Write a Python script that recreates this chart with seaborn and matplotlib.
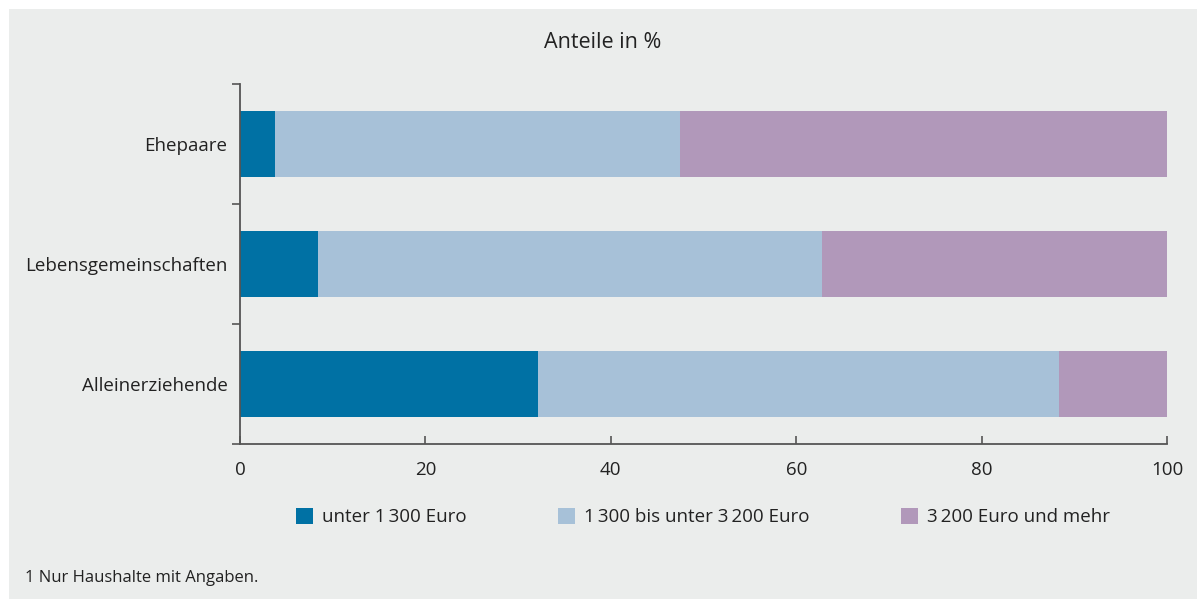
import numpy as np
import pandas as pd
import matplotlib.pyplot as plt
import seaborn as sns
from matplotlib.patches import Patch, Rectangle

# data (shares in %)
groups = ['Ehepaare', 'Lebensgemeinschaften', 'Alleinerziehende']
unter_1300 = [3.8, 8.4, 32.1]
von_1300_bis_3200 = [43.7, 54.4, 56.2]
ab_3200 = [52.5, 37.2, 11.7]
series_names = ['unter 1\u2009300 Euro', '1\u2009300 bis unter 3\u2009200 Euro', '3\u2009200 Euro und mehr']
colors = ['#0071A4', '#A7C1D8', '#B198BA']
x_ticks = [0, 20, 40, 60, 80, 100]

df = pd.DataFrame({'group': groups,
                   's1': unter_1300,
                   's2': von_1300_bis_3200,
                   's3': ab_3200})
# cumulative ends for stacking
df['c1'] = df['s1']
df['c2'] = df['s1'] + df['s2']
df['c3'] = df['c2'] + df['s3']

sns.set_style('ticks')
plt.rcParams['font.family'] = ['Open Sans', 'DejaVu Sans']
bg = '#EBEDEC'
dark = '#222222'

fig = plt.figure(figsize=(11.97, 5.99), dpi=100)
fig.patch.set_facecolor('white')
fig.patches.append(Rectangle((9 / 1197, 0), 1, 1 - 9 / 599, transform=fig.transFigure,
                             facecolor=bg, edgecolor='none', zorder=-10))

ax = fig.add_axes([240 / 1197, 1 - 444 / 599, 927 / 1197, 360 / 599])
ax.set_facecolor(bg)
ax.set_zorder(5)

# draw from the longest segment down so the shorter ones sit on top
for col, c in zip(['c3', 'c2', 'c1'], colors[::-1]):
    sns.barplot(data=df, x=col, y='group', orient='h', color=c, saturation=1,
                width=0.55, linewidth=0, edgecolor='none', ax=ax)

ax.set_xlim(0, 100)
ax.set_ylim(2.5, -0.5)
ax.set_xticks(x_ticks)
ax.set_xlabel('')
ax.set_ylabel('')

for s in ['top', 'right']:
    ax.spines[s].set_visible(False)
for s in ['left', 'bottom']:
    ax.spines[s].set_color('#555555')
    ax.spines[s].set_linewidth(1.3)

ax.tick_params(axis='x', direction='in', length=6, width=1.2, color='#555555',
               labelsize=13.5, labelcolor=dark, pad=12)
ax.tick_params(axis='y', which='major', length=0, labelsize=13.5, labelcolor=dark, pad=9)
ax.set_yticks([-0.5, 0.5, 1.5, 2.5], minor=True)
ax.tick_params(axis='y', which='minor', direction='out', length=6, width=1.2, color='#555555')

fig.text(603 / 1197, 1 - 43 / 599, 'Anteile in %', ha='center', va='center',
         fontsize=15.5, color=dark)

handles = [Patch(facecolor=c, edgecolor='none', label=n) for c, n in zip(colors, series_names)]
fig.legend(handles=handles, loc='center', bbox_to_anchor=(703 / 1197, 1 - 517 / 599),
           ncol=3, frameon=False, fontsize=13.5, handlelength=0.9, handleheight=1.0,
           handletextpad=0.5, columnspacing=4.85, labelcolor=dark)

fig.text(25 / 1197, 1 - 578 / 599, '1 Nur Haushalte mit Angaben.', ha='left', va='center',
         fontsize=12, color=dark)

plt.savefig('out.png', dpi=100)
